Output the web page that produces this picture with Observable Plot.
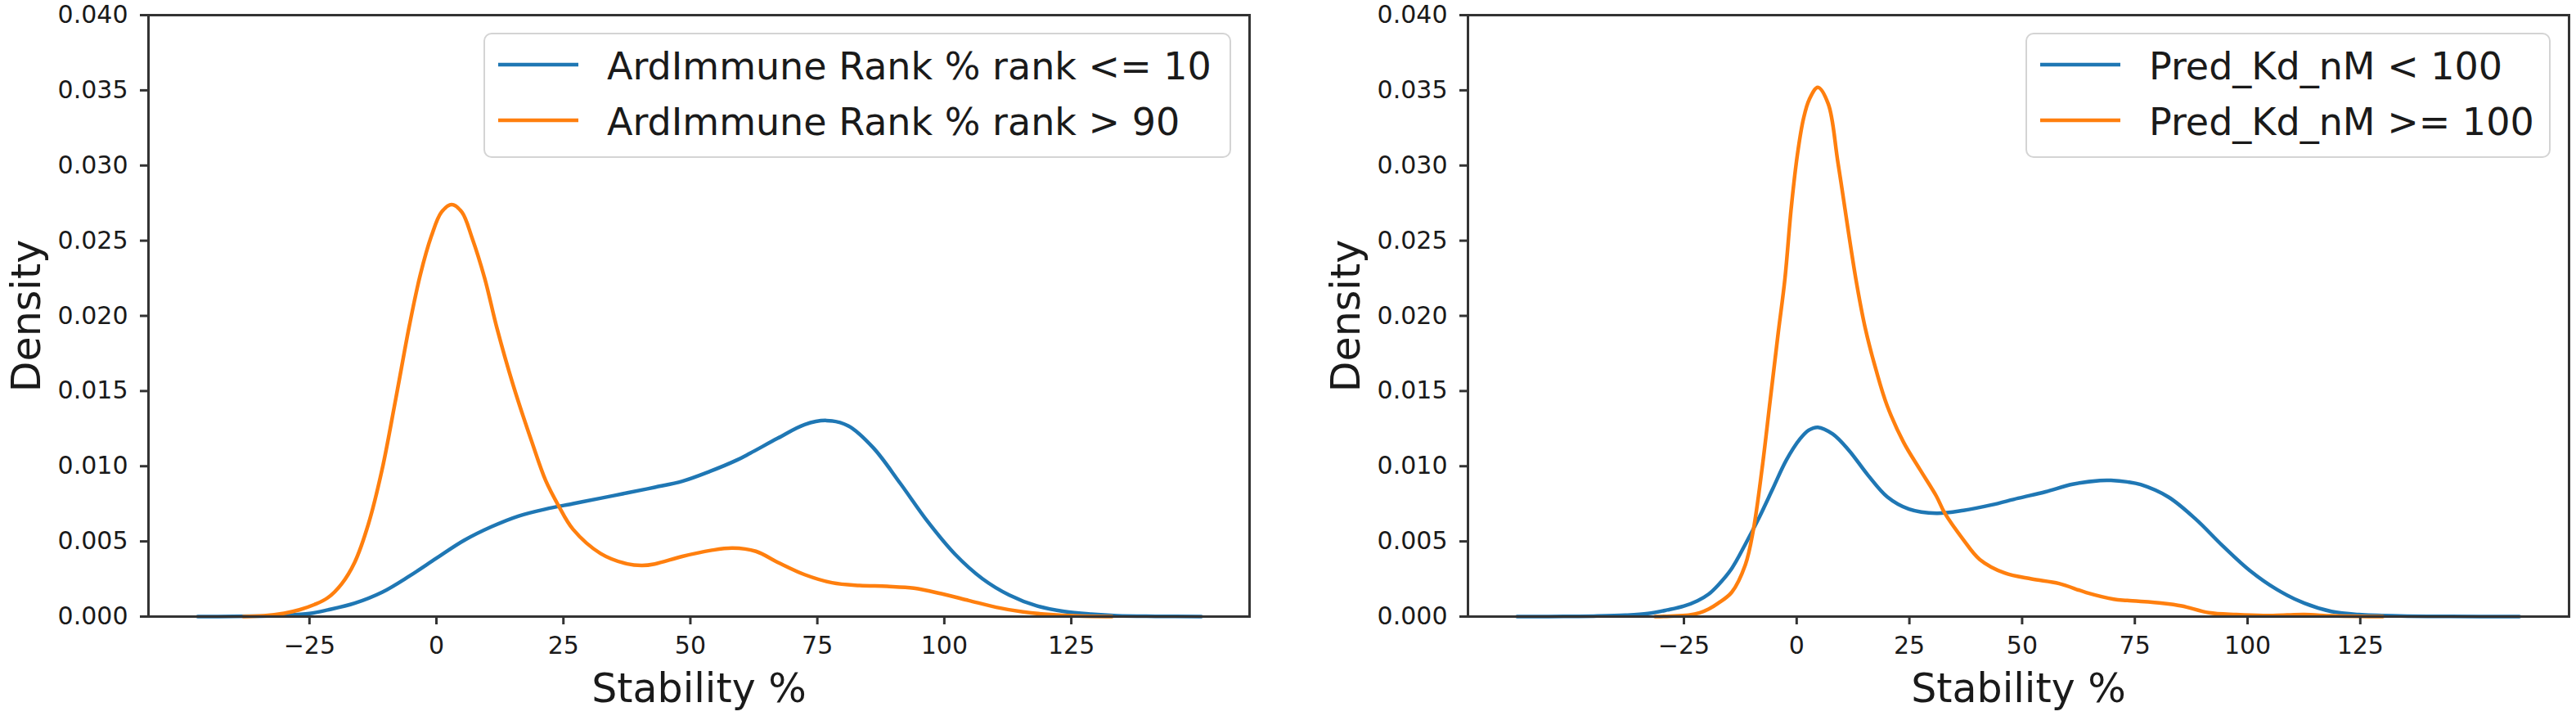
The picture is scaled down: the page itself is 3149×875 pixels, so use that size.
<!DOCTYPE html>
<html>
<head>
<meta charset="utf-8">
<script src="https://cdn.jsdelivr.net/npm/d3@7"></script>
<script src="https://cdn.jsdelivr.net/npm/@observablehq/plot@0.6"></script>
<style>
  html, body { margin: 0; padding: 0; background: #fff; }
  #wrap { position: relative; width: 3149px; height: 875px; overflow: hidden; font-family: "DejaVu Sans", sans-serif; }
  #wrap > svg { position: absolute; top: 0; }
</style>
</head>
<body>
<div id="wrap"></div>
<script>
// ---------- tick values & labels ----------
const xTicks = [-25, 0, 25, 50, 75, 100, 125];
const yTicks = [0, 0.005, 0.010, 0.015, 0.020, 0.025, 0.030, 0.035, 0.040];
const xLabel = "Stability %";
const yLabel = "Density";

// ---------- left panel: ArdImmune Rank ----------
const leftLabels = ["ArdImmune Rank % rank <= 10", "ArdImmune Rank % rank > 90"];
const leftBlueX = [-47, -40, -35, -30, -25, -21.4, -16.1, -10.7, -5.3, 0, 5.4, 10.8, 16.2, 21.5, 26.9, 32.3, 37.6, 43, 48.4, 53.8, 59.1, 61.8, 67.2, 72.5, 76.8, 81.1, 86, 91.3, 96.7, 102.1, 107.5, 112.8, 118.2, 123.6, 128.9, 134, 141.6, 150.6];
const leftBlueY = [0, 0.00001, 0.00003, 0.00008, 0.0002, 0.00044, 0.00089, 0.00162, 0.0027, 0.00388, 0.00506, 0.00597, 0.00669, 0.00715, 0.00751, 0.00787, 0.00823, 0.0086, 0.009, 0.00965, 0.0104, 0.01087, 0.01186, 0.01277, 0.01304, 0.01268, 0.01123, 0.00887, 0.00633, 0.00415, 0.00252, 0.00143, 0.00071, 0.00034, 0.00016, 0.00006, 0.00002, 0];
const leftOrangeX = [-38, -34, -30, -27, -24, -21.4, -18.7, -16.1, -13.4, -10.7, -8, -5.3, -3.2, -1, 1, 3, 5, 7, 9.5, 11.9, 15.1, 18.8, 21.5, 24, 26.9, 32.3, 37.6, 40.5, 43, 48.4, 54, 58.3, 62.9, 67.2, 72.5, 77.9, 83.3, 88.7, 94, 99.4, 104.8, 110.2, 115.5, 120.9, 126.2, 133];
const leftOrangeY = [0, 0.00005, 0.00022, 0.00045, 0.0008, 0.00125, 0.00216, 0.00361, 0.00615, 0.00978, 0.0145, 0.0194, 0.0227, 0.0253, 0.0269, 0.0274, 0.0269, 0.0252, 0.0225, 0.0192, 0.0154, 0.0116, 0.00905, 0.0074, 0.0058, 0.0042, 0.0035, 0.0034, 0.0035, 0.004, 0.0044, 0.00456, 0.00434, 0.00361, 0.00279, 0.00225, 0.00207, 0.00201, 0.00189, 0.00152, 0.00107, 0.00062, 0.00031, 0.00013, 0.00004, 0];

// ---------- right panel: Pred_Kd_nM ----------
const rightLabels = ["Pred_Kd_nM < 100", "Pred_Kd_nM >= 100"];
const rightBlueX = [-62, -55, -50, -45, -38, -33, -28.7, -25, -22, -19.5, -17.4, -14.4, -11.4, -8.3, -5.3, -2.3, 0.7, 2.7, 4.7, 8, 11.6, 15.8, 20.1, 24.9, 31, 37, 43.1, 49.1, 55.2, 61.2, 67.3, 69.7, 73.3, 76.3, 82.4, 88.4, 94.5, 100.5, 106.5, 112.6, 118.6, 124.7, 133.8, 145, 160.3];
const rightBlueY = [0, 0.000005, 0.00001, 0.00003, 0.00009, 0.0002, 0.00044, 0.0007, 0.00105, 0.0015, 0.0021, 0.0032, 0.0048, 0.0066, 0.0085, 0.0104, 0.0118, 0.0124, 0.01259, 0.01214, 0.01105, 0.00941, 0.00796, 0.00715, 0.00687, 0.00706, 0.00742, 0.00787, 0.0083, 0.0088, 0.00905, 0.00906, 0.00896, 0.00878, 0.00796, 0.00651, 0.0047, 0.00306, 0.0018, 0.00089, 0.00034, 0.00013, 0.00004, 0.00001, 0];
const rightOrangeX = [-31.4, -28, -24, -21.5, -19.5, -17.4, -14.4, -11.4, -9.6, -7.7, -5.9, -4.1, -2.6, -1.2, 0.2, 1.5, 2.8, 4.7, 7, 9.2, 13.1, 15.2, 17.7, 20.1, 23.7, 27.3, 31, 32.8, 37, 40.6, 46.1, 52.1, 58.2, 64.2, 70.3, 73.3, 81.2, 85.4, 91.4, 97.5, 103.5, 108, 112.6, 118.6, 124.7, 130];
const rightOrangeY = [0, 0.00003, 0.0001, 0.00025, 0.0005, 0.00089, 0.00162, 0.00343, 0.00578, 0.00978, 0.01431, 0.01885, 0.02248, 0.0272, 0.0308, 0.0331, 0.0344, 0.0352, 0.0341, 0.0301, 0.0225, 0.0192, 0.0163, 0.014, 0.0116, 0.0098, 0.008, 0.0069, 0.0051, 0.0038, 0.0029, 0.0025, 0.0022, 0.0016, 0.00116, 0.00107, 0.00089, 0.00071, 0.00026, 0.00013, 0.00007, 0.0001, 0.00013, 0.00005, 0.00001, 0];

const BLUE = "#1f77b4";
const ORANGE = "#ff7f0e";
const INK = "#1a1a1a";

const toRows = (xs, ys) => xs.map((x, i) => ({x, y: ys[i]}));

function panel({width, marginLeft, marginRight, xDomain, blue, orange, labels, legend}) {
  const H = 875, MT = 18, MB = 122;
  const svg = Plot.plot({
    width, height: H,
    marginLeft, marginRight, marginTop: MT, marginBottom: MB,
    style: {fontFamily: "DejaVu Sans", background: "transparent", overflow: "visible"},
    x: {domain: xDomain},
    y: {domain: [0, 0.04]},
    marks: [
      Plot.line(blue, {x: "x", y: "y", stroke: BLUE, strokeWidth: 4.5, curve: "catmull-rom"}),
      Plot.line(orange, {x: "x", y: "y", stroke: ORANGE, strokeWidth: 4.5, curve: "catmull-rom"}),
      Plot.frame({stroke: "#333", strokeWidth: 3}),
      Plot.axisX({ticks: xTicks, tickSize: 10, tickPadding: 14, fontSize: 30, stroke: "#333", strokeWidth: 3, fill: INK, label: null}),
      Plot.axisY({ticks: yTicks, tickSize: 10, tickPadding: 15, fontSize: 30, stroke: "#333", strokeWidth: 3, fill: INK, tickFormat: d3.format(".3f"), label: null}),
      Plot.text([xLabel], {text: d => d, frameAnchor: "bottom", dy: 89, fontSize: 49, lineAnchor: "middle", fill: INK}),
      Plot.text([yLabel], {text: d => d, frameAnchor: "left", dx: -148, rotate: -90, fontSize: 49, lineAnchor: "middle", textAnchor: "middle", fill: INK})
    ]
  });
  // legend (upper right inside the axes)
  const g = d3.select(svg).append("g")
    .attr("font-family", "DejaVu Sans").attr("font-size", 46).attr("text-anchor", "start");
  g.append("rect")
    .attr("x", legend.x).attr("y", 41).attr("width", legend.w).attr("height", 151)
    .attr("rx", 9).attr("fill", "white").attr("fill-opacity", 0.85)
    .attr("stroke", "#d4d4d4").attr("stroke-width", 2);
  [[BLUE, 79, 96.5], [ORANGE, 147, 165]].forEach(([c, ly, by], i) => {
    g.append("line").attr("x1", legend.x + 17).attr("x2", legend.x + 115)
      .attr("y1", ly).attr("y2", ly).attr("stroke", c).attr("stroke-width", 4.5);
    g.append("text").attr("x", legend.x + 150).attr("y", by)
      .attr("text-anchor", "start").attr("fill", INK).text(labels[i]);
  });
  return svg;
}

const wrap = document.getElementById("wrap");

const left = panel({
  width: 1574, marginLeft: 181, marginRight: 47,
  xDomain: [-56.7, 160.1],
  blue: toRows(leftBlueX, leftBlueY), orange: toRows(leftOrangeX, leftOrangeY),
  labels: leftLabels, legend: {x: 592, w: 912}
});
left.style.left = "0px";
wrap.appendChild(left);

const right = panel({
  width: 1575, marginLeft: 220, marginRight: 9,
  xDomain: [-72.9, 171.3],
  blue: toRows(rightBlueX, rightBlueY), orange: toRows(rightOrangeX, rightOrangeY),
  labels: rightLabels, legend: {x: 903, w: 640}
});
right.style.left = "1574px";
wrap.appendChild(right);
</script>
</body>
</html>
